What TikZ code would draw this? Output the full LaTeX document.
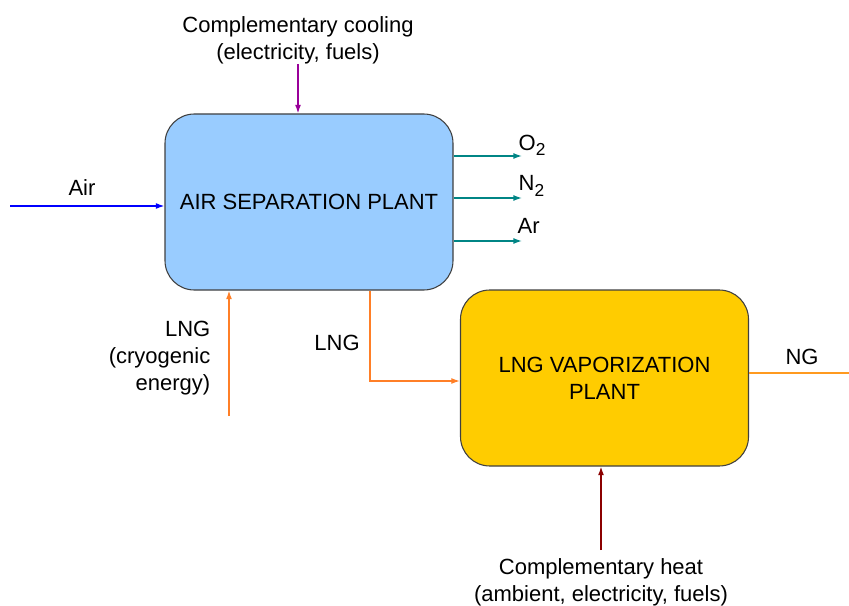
\documentclass[tikz,border=0pt]{standalone}
\usepackage{fontspec}
\setmainfont{Liberation Sans}
\usetikzlibrary{arrows.meta}
\definecolor{aspblue}{HTML}{99CCFF}
\definecolor{lngyellow}{HTML}{FFCC00}
\definecolor{airblue}{HTML}{0000FF}
\definecolor{gasteal}{HTML}{008585}
\definecolor{coolpurple}{HTML}{990099}
\definecolor{lngorange}{HTML}{FF7F27}
\definecolor{ngorange}{HTML}{FF9A1F}
\definecolor{heatred}{HTML}{8B0000}
\newcommand{\lowtwo}{\raisebox{-0.45ex}{\fontsize{13}{13}\selectfont 2}}
\begin{document}
\begin{tikzpicture}
[x=0.75pt, y=-0.75pt, font=\fontsize{16.5}{20}\selectfont, >={Latex[length=6.5pt,width=4.5pt]}]
\tikzstyle{plant}=[draw=black!75, line width=0.8pt, rounded corners=22pt, minimum width=216pt, minimum height=132pt, align=center]
\tikzstyle{flow}=[line width=1pt, ->]
\useasboundingbox (0,0) rectangle (849,606);

% plants
\node[plant, fill=aspblue]		(ASP)	at (309,202) {AIR SEPARATION PLANT};
\node[plant, fill=lngyellow]	(LNGV)	at (604.5,378) {LNG VAPORIZATION\\PLANT};

% free ends of the streams
\coordinate (airin)	at (10,206);
\coordinate (coolin)	at (298,64);
\coordinate (O2out)	at (522,156);
\coordinate (N2out)	at (522,198);
\coordinate (Arout)	at (522,241);
\coordinate (lngin)	at (229,416);
\coordinate (tap)		at (370,381);
\coordinate (ngout)	at (849,373);
\coordinate (heatin)	at (601,550);

% labels
\node (airlbl)	at (82,188) {Air};
\node[align=center] (coollbl) at (298,40) {Complementary cooling\\(electricity, fuels)};
\node[anchor=west] (O2lbl) at (514,145) {O\lowtwo};
\node[anchor=west] (N2lbl) at (514,186) {N\lowtwo};
\node[anchor=west] (Arlbl) at (513,226) {Ar};
\node[anchor=east, align=right] (lnglbl) at (215,358) {LNG\\(cryogenic\\energy)};
\node (taplbl)	at (337,343) {LNG};
\node (nglbl)	at (802,357) {NG};
\node[align=center] (heatlbl) at (601,582) {Complementary heat\\(ambient, electricity, fuels)};

% streams
\draw[flow, airblue] (airin) -- (airin -| ASP.west);
\draw[flow, coolpurple] (coolin) -- (coolin |- ASP.north);
\draw[flow, gasteal] (O2out -| ASP.east) -- (O2out);
\draw[flow, gasteal] (N2out -| ASP.east) -- (N2out);
\draw[flow, gasteal] (Arout -| ASP.east) -- (Arout);
\draw[flow, lngorange] (lngin) -- (lngin |- ASP.south);
\draw[flow, lngorange] (ASP.south -| tap) |- (LNGV.west |- tap);
\draw[line width=1pt, ngorange] (LNGV.east |- ngout) -- (ngout);
\draw[flow, heatred] (heatin) -- (heatin |- LNGV.south);

\end{tikzpicture}
\end{document}
